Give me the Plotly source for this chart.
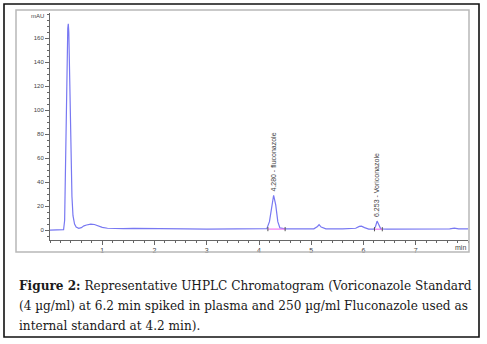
import plotly.graph_objects as go

# Chromatogram
time_min = [0.0, 0.20, 0.26, 0.28, 0.30, 0.32, 0.34, 0.35, 0.36, 0.38, 0.40, 0.42, 0.44, 0.47,
            0.50, 0.55, 0.60, 0.65, 0.70, 0.78, 0.85, 0.92, 1.00, 1.10, 1.20, 1.40, 1.60, 1.80,
            2.00, 2.30, 2.60, 3.00, 3.40, 3.80, 4.00, 4.15, 4.20, 4.24, 4.28, 4.32, 4.36, 4.40,
            4.50, 4.80, 5.05, 5.12, 5.15, 5.19, 5.28, 5.60, 5.85, 5.92, 5.96, 6.02, 6.10, 6.20,
            6.23, 6.26, 6.29, 6.33, 6.45, 6.80, 6.85, 6.90, 7.30, 7.65, 7.74, 7.82, 8.00]
signal_mau = [0.0, 0.0, 0.3, 8.0, 60.0, 140.0, 168.0, 172.0, 165.0, 120.0, 65.0, 28.0, 12.0, 5.0,
              2.5, 1.5, 2.0, 3.5, 4.2, 5.0, 4.6, 3.5, 2.2, 1.5, 1.3, 1.2, 1.4, 1.2,
              1.5, 1.3, 1.0, 0.8, 1.0, 0.9, 1.0, 1.2, 7.0, 20.0, 29.0, 21.0, 7.0, 1.8,
              1.0, 0.9, 1.0, 3.0, 4.5, 2.5, 1.0, 0.9, 1.5, 3.0, 3.2, 2.0, 0.8, 0.8,
              3.0, 7.5, 5.0, 1.0, 0.8, 0.8, 1.4, 0.8, 0.8, 1.0, 1.6, 1.0, 0.9]

# Integration baselines
fluco_base_t = [4.17, 4.50]
fluco_base_y = [0.8, 0.8]
vori_base_t = [6.21, 6.36]
vori_base_y = [0.7, 0.7]

peak_times = [4.28, 6.253]
peak_heights = [29.0, 7.5]
peak_labels = ["4.280 - fluconazole", "6.253 - Voriconazole"]

y_ticks = [0, 20, 40, 60, 80, 100, 120, 140, 160]
x_ticks = [1, 2, 3, 4, 5, 6, 7]

W, H = 487, 344
fig = go.Figure()
fig.add_trace(go.Scatter(x=time_min, y=signal_mau, mode="lines",
                         line=dict(color="#7878f2", width=1.2), hoverinfo="skip"))
for bt, by in [(fluco_base_t, fluco_base_y), (vori_base_t, vori_base_y)]:
    fig.add_trace(go.Scatter(x=bt, y=by, mode="lines+markers",
                             line=dict(color="#f07cf0", width=1.2),
                             marker=dict(symbol="line-ns", size=3,
                                         line=dict(color="#555", width=1)),
                             hoverinfo="skip"))

for t, h, lab in zip(peak_times, peak_heights, peak_labels):
    fig.add_annotation(x=t, y=h + 1.5, text=lab, textangle=-90, showarrow=False,
                       xanchor="center", yanchor="bottom",
                       font=dict(family="Liberation Sans", size=7, color="#444"))

fig.add_annotation(x=0, y=178.5, text="mAU", showarrow=False, xanchor="right",
                   xshift=-4, yanchor="middle", xref="x", yref="y",
                   font=dict(family="Liberation Sans", size=6, color="#444"))
fig.add_annotation(x=7.85, y=-8.3, text="min", showarrow=False, xanchor="center",
                   yanchor="top", yshift=-2,
                   font=dict(family="Liberation Sans", size=7, color="#444"))

# frames
fig.add_shape(type="rect", xref="paper", yref="paper",
              x0=4 / W, x1=479 / W, y0=1 - 337 / H, y1=1 - 4 / H,
              line=dict(color="#111", width=1.6))
fig.add_shape(type="rect", xref="paper", yref="paper",
              x0=16 / W, x1=469 / W, y0=1 - 252 / H, y1=1 - 10 / H,
              line=dict(color="#b8b8b8", width=1.5))

caption = [
    "<b>Figure 2:</b> Representative UHPLC Chromatogram (Voriconazole Standard",
    "(4 µg/ml) at 6.2 min spiked in plasma and 250 µg/ml Fluconazole used as",
    "internal standard at 4.2 min).",
]
for i, line in enumerate(caption):
    fig.add_annotation(xref="paper", yref="paper", x=17 / W, y=1 - (286 + 20 * i) / H,
                       text=line, showarrow=False, xanchor="left", yanchor="middle",
                       font=dict(family="DejaVu Serif", size=12.1, color="#1a1a1a"))

fig.update_layout(
    width=W, height=H, margin=dict(l=0, r=0, t=0, b=0, autoexpand=False),
    paper_bgcolor="white", plot_bgcolor="white", showlegend=False,
    xaxis=dict(domain=[50 / W, 468 / W], range=[0, 8], tickvals=x_ticks,
               automargin=False,
               showline=True, linecolor="#666", linewidth=1, ticks="outside",
               ticklen=4, tickcolor="#666", showgrid=False, zeroline=False,
               tickfont=dict(family="Liberation Sans", size=7, color="#444"),
               minor=dict(dtick=0.2, ticks="outside", ticklen=2, tickcolor="#666")),
    yaxis=dict(domain=[1 - 240 / H, 1 - 13 / H], range=[-8.3, 181], tickvals=y_ticks,
               automargin=False,
               showline=True, linecolor="#666", linewidth=1, ticks="outside",
               ticklen=4, tickcolor="#666", showgrid=False, zeroline=False,
               tickfont=dict(family="Liberation Sans", size=6, color="#444"),
               minor=dict(dtick=5, ticks="outside", ticklen=2, tickcolor="#666")),
)
fig.write_html("out.html", config={"displayModeBar": False},
               post_script="document.body.style.margin='0';document.body.style.overflow='hidden';")
